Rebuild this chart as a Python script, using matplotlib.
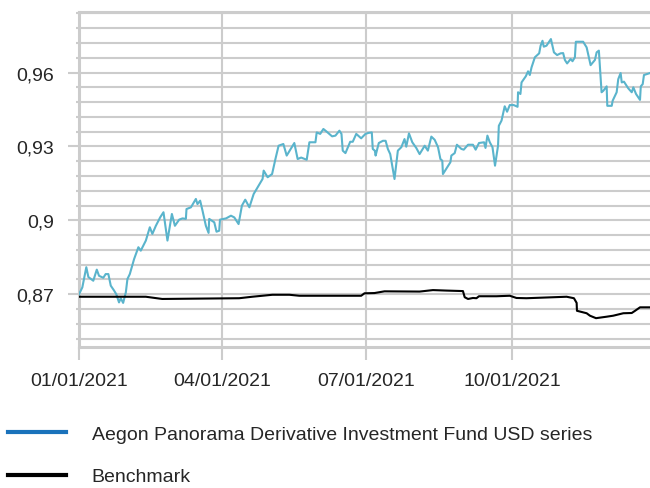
import numpy as np
import pandas as pd
import matplotlib
matplotlib.use('Agg')
import matplotlib.pyplot as plt
from matplotlib.lines import Line2D

# 数据：距 2021-01-01 的天数与净值
fund_days = [0.0, 2.1, 4.6, 5.9, 9.0, 11.2, 12.6, 15.3, 16.8, 18.5, 20.0, 22.1, 23.5, 25.2, 26.3,
             27.8, 29.5, 30.5, 32.0, 34.7, 37.4, 38.9, 42.1, 44.6, 46.2, 48.4, 51.1, 53.2, 55.7,
             58.5, 60.4, 63.1, 65.2, 67.3, 67.7, 70.5, 73.6, 74.6, 76.3, 77.8, 79.9, 81.6, 82.0,
             85.2, 86.6, 88.3, 88.8, 92.6, 95.7, 97.8, 100.5, 102.6, 104.7, 107.3, 110.0, 113.1,
             115.6, 116.3, 118.8, 121.6, 123.7, 125.7, 128.7, 130.8, 135.6, 137.7, 139.9, 143.4,
             145.1, 148.9, 149.7, 151.9, 153.9, 156.0, 159.4, 161.5, 164.0, 165.3, 166.1, 167.8,
             170.8, 172.4, 174.6, 177.7, 180.4, 182.3, 184.4, 185.0, 186.3, 186.8, 188.8, 191.4,
             193.1, 194.5, 196.0, 198.7, 200.8, 203.0, 205.0, 206.1, 207.8, 209.9, 212.4, 214.5,
             217.7, 219.7, 221.9, 224.0, 226.1, 227.6, 228.8, 229.2, 233.9, 234.5, 236.6, 238.0,
             240.8, 242.3, 245.0, 248.1, 249.8, 251.9, 255.1, 256.0, 257.2, 258.7, 260.4, 262.0,
             263.9, 264.4, 266.1, 268.1, 269.6, 271.3, 273.8, 276.2, 276.5, 278.0, 278.7, 281.4,
             282.8, 283.9, 285.0, 287.1, 289.8, 290.7, 291.9, 292.7, 294.4, 297.2, 299.1, 301.1,
             303.3, 304.9, 306.0, 307.4, 309.6, 310.8, 312.3, 312.9, 317.5, 319.7, 322.2, 324.9,
             326.0, 327.4, 329.1, 330.2, 332.3, 332.7, 335.5, 336.1, 338.6, 339.6, 341.1, 341.8,
             343.2, 345.9, 348.1, 349.1, 350.8, 353.3, 353.8, 355.0, 355.8, 359.6]
fund_values = [0.8700, 0.8728, 0.8810, 0.8770, 0.8755, 0.8800, 0.8775, 0.8767, 0.8782, 0.8782,
               0.8735, 0.8715, 0.8700, 0.8667, 0.8684, 0.8665, 0.8708, 0.8762, 0.8782, 0.8843,
               0.8891, 0.8877, 0.8918, 0.8972, 0.8945, 0.8978, 0.9012, 0.9033, 0.8918, 0.9026,
               0.8978, 0.9003, 0.9008, 0.9006, 0.9046, 0.9053, 0.9087, 0.9066, 0.9080, 0.9039,
               0.8978, 0.8949, 0.9006, 0.8992, 0.8954, 0.8958, 0.9003, 0.9008, 0.9019, 0.9012,
               0.8985, 0.9060, 0.9084, 0.9053, 0.9107, 0.9141, 0.9168, 0.9202, 0.9175, 0.9188,
               0.9249, 0.9303, 0.9310, 0.9263, 0.9314, 0.9249, 0.9255, 0.9246, 0.9317, 0.9317,
               0.9357, 0.9351, 0.9371, 0.9360, 0.9341, 0.9344, 0.9364, 0.9351, 0.9283, 0.9273,
               0.9319, 0.9319, 0.9351, 0.9333, 0.9351, 0.9355, 0.9357, 0.9290, 0.9283, 0.9263,
               0.9314, 0.9323, 0.9323, 0.9290, 0.9269, 0.9168, 0.9283, 0.9297, 0.9330, 0.9299,
               0.9353, 0.9317, 0.9294, 0.9269, 0.9303, 0.9283, 0.9340, 0.9327, 0.9297, 0.9249,
               0.9242, 0.9188, 0.9236, 0.9263, 0.9273, 0.9307, 0.9290, 0.9287, 0.9307, 0.9307,
               0.9287, 0.9314, 0.9317, 0.9294, 0.9344, 0.9317, 0.9297, 0.9222, 0.9303, 0.9384,
               0.9405, 0.9463, 0.9441, 0.9468, 0.9468, 0.9461, 0.9520, 0.9513, 0.9560, 0.9585,
               0.9605, 0.9590, 0.9621, 0.9662, 0.9678, 0.9709, 0.9729, 0.9705, 0.9709, 0.9736,
               0.9682, 0.9671, 0.9678, 0.9679, 0.9651, 0.9637, 0.9655, 0.9646, 0.9662, 0.9725,
               0.9725, 0.9702, 0.9630, 0.9651, 0.9682, 0.9689, 0.9520, 0.9526, 0.9544, 0.9465,
               0.9465, 0.9486, 0.9520, 0.9573, 0.9598, 0.9560, 0.9563, 0.9536, 0.9520, 0.9540,
               0.9513, 0.9489, 0.9544, 0.9553, 0.9590, 0.9598]

bench_days = [0.0, 42.1, 52.4, 100.9, 109.1, 121.8, 132.5, 138.8, 177.7, 179.8, 186.1, 192.4,
              214.5, 222.9, 231.4, 241.8, 242.9, 245.0, 248.1, 250.3, 251.9, 262.9, 271.3, 275.5,
              281.8, 307.1, 311.7, 313.4, 313.6, 319.7, 321.8, 325.6, 332.3, 336.4, 342.8, 348.1,
              350.2, 353.3, 359.6]
bench_values = [0.8690, 0.8690, 0.8681, 0.8684, 0.8690, 0.8698, 0.8698, 0.8694, 0.8694, 0.8704,
                0.8705, 0.8712, 0.8711, 0.8717, 0.8715, 0.8713, 0.8688, 0.8681, 0.8685, 0.8684,
                0.8692, 0.8692, 0.8694, 0.8685, 0.8684, 0.8690, 0.8684, 0.8665, 0.8633, 0.8623,
                0.8613, 0.8603, 0.8609, 0.8613, 0.8623, 0.8624, 0.8633, 0.8647, 0.8647]

x_ticks = ['2021-01-01', '2021-04-01', '2021-07-01', '2021-10-01']
x_tick_labels = ['01/01/2021', '04/01/2021', '07/01/2021', '10/01/2021']
y_major = [0.87, 0.90, 0.93, 0.96]
y_major_labels = ['0,87', '0,9', '0,93', '0,96']
y_minor = [0.852, 0.858, 0.864, 0.876, 0.882, 0.888, 0.894, 0.906, 0.912, 0.918, 0.924,
           0.936, 0.942, 0.948, 0.954, 0.966, 0.972, 0.978, 0.984]

series_names = ['Aegon Panorama Derivative Investment Fund USD series', 'Benchmark']

start = pd.Timestamp('2021-01-01')
fund_dates = start + pd.to_timedelta(fund_days, unit='D')
bench_dates = start + pd.to_timedelta(bench_days, unit='D')

plt.rcParams['font.family'] = ['Liberation Sans', 'DejaVu Sans']
grid_c = '#cccccc'
text_c = '#262626'

fig = plt.figure(figsize=(6.5, 4.89), dpi=100)
ax = fig.add_axes([79 / 650, 1 - 348 / 489, 1 - 79 / 650, (348 - 12.7) / 489])

ax.plot(fund_dates, fund_values, color='#5ab4cc', lw=1.5, zorder=3)
ax.plot(bench_dates, bench_values, color='black', lw=1.5, zorder=3)

ax.set_xlim(start, start + pd.Timedelta(days=359.6))
ax.set_ylim(0.8486, 0.9847)

ax.set_xticks(pd.to_datetime(x_ticks))
ax.set_xticklabels(x_tick_labels)
ax.set_yticks(y_major)
ax.set_yticklabels(y_major_labels)
ax.set_yticks(y_minor, minor=True)

# 网格线
ax.grid(True, which='both', axis='y', color=grid_c, lw=1.5)
ax.grid(True, which='major', axis='x', color=grid_c, lw=1.5)
ax.set_axisbelow(True)

for side in ['left', 'bottom', 'top']:
    ax.spines[side].set_color(grid_c)
    ax.spines[side].set_linewidth(2.2)
ax.spines['right'].set_visible(False)

ax.tick_params(axis='y', which='major', length=8, width=1.5, color=grid_c, pad=10,
               labelsize=14, labelcolor=text_c)
ax.tick_params(axis='y', which='minor', length=2, width=1.5, color=grid_c)
ax.tick_params(axis='x', which='major', length=9, width=1.5, color=grid_c, pad=9,
               labelsize=14, labelcolor=text_c)

# 图例
handles = [Line2D([], [], color='#1a72bb', lw=3), Line2D([], [], color='black', lw=3)]
leg = fig.legend(handles, series_names, loc='upper left', bbox_to_anchor=(8 / 650, 1 - 426 / 489),
                 frameon=False, fontsize=14, handlelength=3.0, handletextpad=1.3,
                 labelspacing=1.3, borderpad=0, borderaxespad=0)
for t in leg.get_texts():
    t.set_color(text_c)

fig.savefig('out.png', dpi=100)
